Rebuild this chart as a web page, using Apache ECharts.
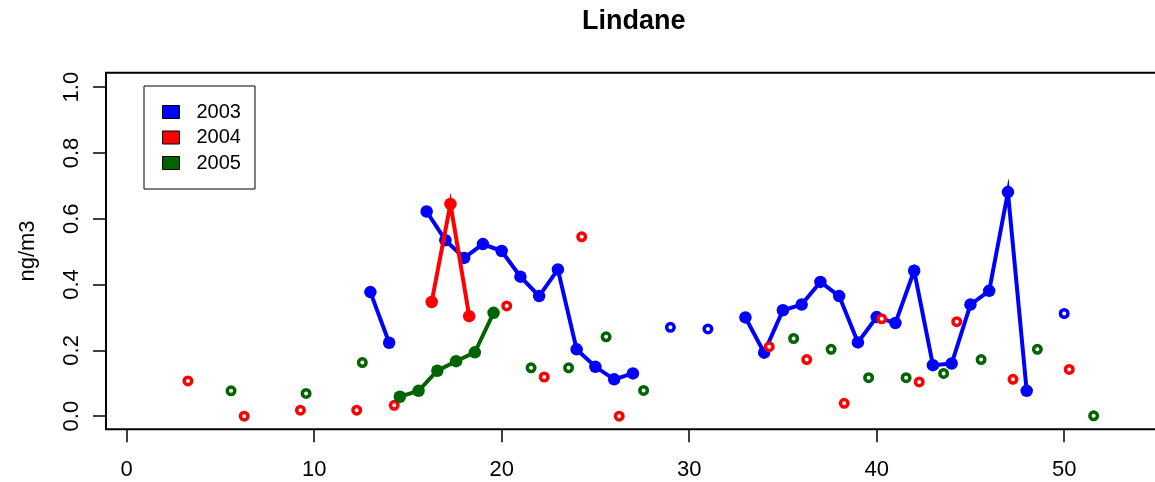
<!DOCTYPE html>
<html>
<head>
<meta charset="utf-8">
<script src="https://cdn.jsdelivr.net/npm/echarts@6/dist/echarts.min.js"></script>
<style>
  html, body { margin: 0; background: #fff; }
  #chart { width: 1155px; height: 482px; }
</style>
</head>
<body>
<div id="chart"></div>
<script>
// week positions and concentrations (ng/m3)
const x2003 = [13, 14, 16, 17, 18, 19, 20, 21, 22, 23, 24, 25, 26, 27, 29, 31,
  33, 34, 35, 36, 37, 38, 39, 40, 41, 42, 43, 44, 45, 46, 47, 48, 50]
const y2003 = [0.377, 0.223, 0.622, 0.535, 0.481, 0.523, 0.502, 0.424, 0.365, 0.446, 0.203, 0.150, 0.112, 0.130, 0.270, 0.265,
  0.300, 0.193, 0.322, 0.339, 0.408, 0.365, 0.224, 0.301, 0.283, 0.442, 0.155, 0.160, 0.339, 0.381, 0.681, 0.077, 0.312]

const x2004 = [3.27, 6.27, 9.27, 12.27, 14.27, 16.27, 17.27, 18.27, 20.27, 22.27, 24.27, 26.27,
  34.27, 36.27, 38.27, 40.27, 42.27, 44.27, 47.27, 50.27]
const y2004 = [0.107, 0.0, 0.018, 0.018, 0.033, 0.347, 0.645, 0.304, 0.335, 0.119, 0.545, 0.0,
  0.211, 0.172, 0.039, 0.296, 0.104, 0.287, 0.112, 0.142]

const x2005 = [5.57, 9.57, 12.57, 14.57, 15.57, 16.57, 17.57, 18.57, 19.57, 21.57, 23.57, 25.57, 27.57,
  35.57, 37.57, 39.57, 41.57, 43.57, 45.57, 48.57, 51.57]
const y2005 = [0.077, 0.069, 0.163, 0.059, 0.077, 0.138, 0.167, 0.194, 0.314, 0.147, 0.147, 0.241, 0.078,
  0.236, 0.203, 0.117, 0.117, 0.130, 0.172, 0.203, 0.001]

const years = ['2003', '2004', '2005']
const colors = ['#0000ff', '#ff0000', '#006400']
const xTicks = [0, 10, 20, 30, 40, 50]
const yTicks = [0, 0.2, 0.4, 0.6, 0.8, 1.0]

const font = "'Liberation Sans', Arial, Helvetica, sans-serif"

// consecutive weeks are joined by a line, lone weeks are open circles
function splitRuns(xs, ys) {
  const runs = []
  let cur = []
  xs.forEach((x, i) => {
    if (cur.length && Math.abs(x - cur[cur.length - 1][0] - 1) > 0.01) {
      runs.push(cur)
      cur = []
    }
    cur.push([x, ys[i]])
  })
  if (cur.length) runs.push(cur)
  return runs
}

const series = []
;[[x2003, y2003], [x2004, y2004], [x2005, y2005]].forEach(([xs, ys], k) => {
  splitRuns(xs, ys).forEach(run => {
    if (run.length > 1) {
      series.push({
        name: years[k],
        type: 'line',
        z: 2 + k,
        data: run,
        symbol: 'circle',
        symbolSize: 12.5,
        itemStyle: { color: colors[k], opacity: 1 },
        lineStyle: { color: colors[k], width: 4, join: 'miter', miterLimit: 10 }
      })
    } else {
      series.push({
        name: years[k],
        type: 'scatter',
        z: 2 + k,
        data: run,
        symbol: 'circle',
        symbolSize: 7.5,
        itemStyle: { color: '#fff', borderColor: colors[k], borderWidth: 3.5, opacity: 1 }
      })
    }
  })
})

const chart = echarts.init(document.getElementById('chart'))
chart.setOption({
  animation: false,
  title: {
    text: 'Lindane',
    left: 582,
    top: 8,
    padding: 0,
    textStyle: { fontFamily: font, fontSize: 27, fontWeight: 'bold', color: '#000' }
  },
  legend: {
    orient: 'vertical',
    left: 144,
    top: 86,
    icon: 'rect',
    itemWidth: 17,
    itemHeight: 13,
    itemGap: 5.5,
    padding: [16, 14, 16, 18],
    borderColor: '#000',
    borderWidth: 1,
    selectedMode: false,
    textStyle: { fontFamily: font, fontSize: 20, color: '#000', lineHeight: 20, padding: [0, 0, 0, 12] },
    data: years.map((y, i) => ({
      name: y,
      itemStyle: { color: colors[i], borderColor: '#000', borderWidth: 1, opacity: 1 }
    }))
  },
  grid: {
    show: true,
    outerBoundsMode: 'none',
    containLabel: false,
    left: 106,
    top: 72.7,
    bottom: 52.7,
    right: -20,
    borderColor: '#000',
    borderWidth: 2,
    backgroundColor: 'transparent'
  },
  xAxis: {
    type: 'value',
    min: -1.1,
    max: 55.91,
    axisLine: { show: false, onZero: false },
    splitLine: { show: false },
    axisTick: { show: true, inside: false, length: 13, customValues: xTicks, lineStyle: { color: '#000', width: 1.5 } },
    axisLabel: {
      customValues: xTicks,
      margin: 30,
      fontFamily: font,
      fontSize: 22,
      color: '#000',
      formatter: v => String(v)
    }
  },
  yAxis: {
    type: 'value',
    min: -0.04,
    max: 1.044,
    name: 'ng/m3',
    nameLocation: 'middle',
    nameRotate: 90,
    nameGap: 67,
    nameMoveOverlap: false,
    nameTextStyle: { fontFamily: font, fontSize: 22, color: '#000' },
    axisLine: { show: false, onZero: false },
    splitLine: { show: false },
    axisTick: { show: true, inside: false, length: 13, customValues: yTicks, lineStyle: { color: '#000', width: 1.5 } },
    axisLabel: {
      customValues: yTicks,
      rotate: 90,
      margin: 23,
      fontFamily: font,
      fontSize: 22,
      color: '#000',
      formatter: v => v.toFixed(1)
    }
  },
  series: series
})
</script>
</body>
</html>
